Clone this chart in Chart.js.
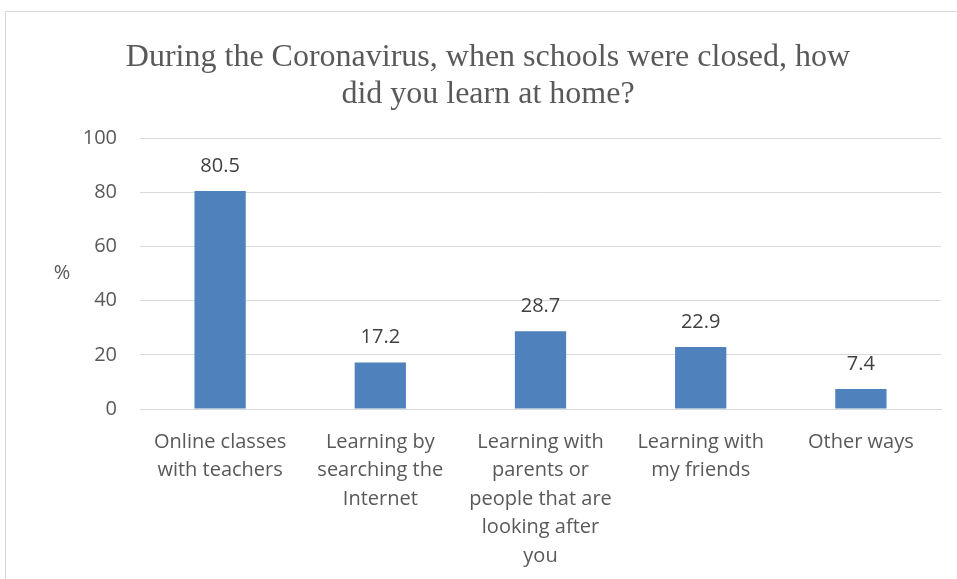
<!DOCTYPE html>
<html>
<head>
<meta charset="utf-8">
<script src="https://cdn.jsdelivr.net/npm/chart.js@4.4.1/dist/chart.umd.min.js"></script>
<style>
  html, body { margin: 0; padding: 0; background: #fff; overflow: hidden; }
  #frame {
    position: absolute; left: 5px; top: 11px; width: 960px; height: 580px;
    border-left: 1px solid #d9d9d9; border-top: 1px solid #d9d9d9;
  }
  #wrap { position: absolute; left: 0; top: 0; width: 957px; height: 579px; }
</style>
</head>
<body>
<div id="frame"></div>
<div id="wrap"><canvas id="myChart"></canvas></div>
<script>
var categories = [
    ['Online classes', 'with teachers'],
    ['Learning by', 'searching the', 'Internet'],
    ['Learning with', 'parents or', 'people that are', 'looking after', 'you'],
    ['Learning with', 'my friends'],
    ['Other ways']
];
var percentValues = [80.5, 17.2, 28.7, 22.9, 7.4];
var yTicks = [0, 20, 40, 60, 80, 100];

var labelFont = { family: "'Open Sans', sans-serif", size: 20 };

// value labels above each bar
var valueLabels = {
    id: 'valueLabels',
    afterDatasetsDraw: function (chart) {
        var ctx = chart.ctx;
        var meta = chart.getDatasetMeta(0);
        ctx.save();
        ctx.font = labelFont.size + 'px ' + labelFont.family;
        ctx.fillStyle = '#404040';
        ctx.textAlign = 'center';
        ctx.textBaseline = 'middle';
        meta.data.forEach(function (bar, i) {
            ctx.fillText(percentValues[i].toFixed(1), bar.x, bar.y - 25);
        });
        ctx.restore();
    }
};

// horizontal "%" axis title
var percentTitle = {
    id: 'percentTitle',
    afterDraw: function (chart) {
        var ctx = chart.ctx;
        var area = chart.chartArea;
        ctx.save();
        ctx.font = labelFont.size + 'px ' + labelFont.family;
        ctx.fillStyle = '#595959';
        ctx.textAlign = 'center';
        ctx.textBaseline = 'middle';
        ctx.fillText('%', 62, (area.top + area.bottom) / 2);
        ctx.restore();
    }
};

var ctx = document.getElementById('myChart').getContext('2d');
var chart = new Chart(ctx, {
    type: 'bar',
    data: {
        labels: categories,
        datasets: [{
            data: percentValues,
            backgroundColor: '#4f81bd',
            borderWidth: 0,
            categoryPercentage: 1,
            barPercentage: 0.32
        }]
    },
    plugins: [valueLabels, percentTitle],
    options: {
        responsive: true,
        maintainAspectRatio: false,
        animation: false,
        layout: { padding: { left: 35, right: 16, top: 0, bottom: 0 } },
        plugins: {
            legend: { display: false },
            tooltip: { enabled: false },
            title: {
                display: true,
                text: ['During the Coronavirus, when schools were closed, how', 'did you learn at home?'],
                color: '#595959',
                font: { family: "'Liberation Serif', 'Times New Roman', serif", size: 32, weight: 'normal', lineHeight: 1.16 },
                padding: { top: 39, bottom: 25 }
            }
        },
        scales: {
            x: {
                grid: { display: false, drawTicks: false },
                border: { color: '#d9d9d9', width: 1 },
                ticks: {
                    color: '#595959',
                    font: { family: labelFont.family, size: labelFont.size, lineHeight: 1.42 },
                    padding: 19,
                    maxRotation: 0,
                    autoSkip: false
                },
                afterFit: function (scale) { scale.height = 170; }
            },
            y: {
                min: 0,
                max: 100,
                afterBuildTicks: function (scale) {
                    scale.ticks = yTicks.map(function (v) { return { value: v }; });
                },
                grid: { color: '#d9d9d9', lineWidth: 1, drawTicks: false },
                border: { display: false },
                ticks: {
                    color: '#595959',
                    font: labelFont,
                    padding: 23
                },
                afterFit: function (scale) { scale.width = 105; }
            }
        }
    }
});
</script>
</body>
</html>
